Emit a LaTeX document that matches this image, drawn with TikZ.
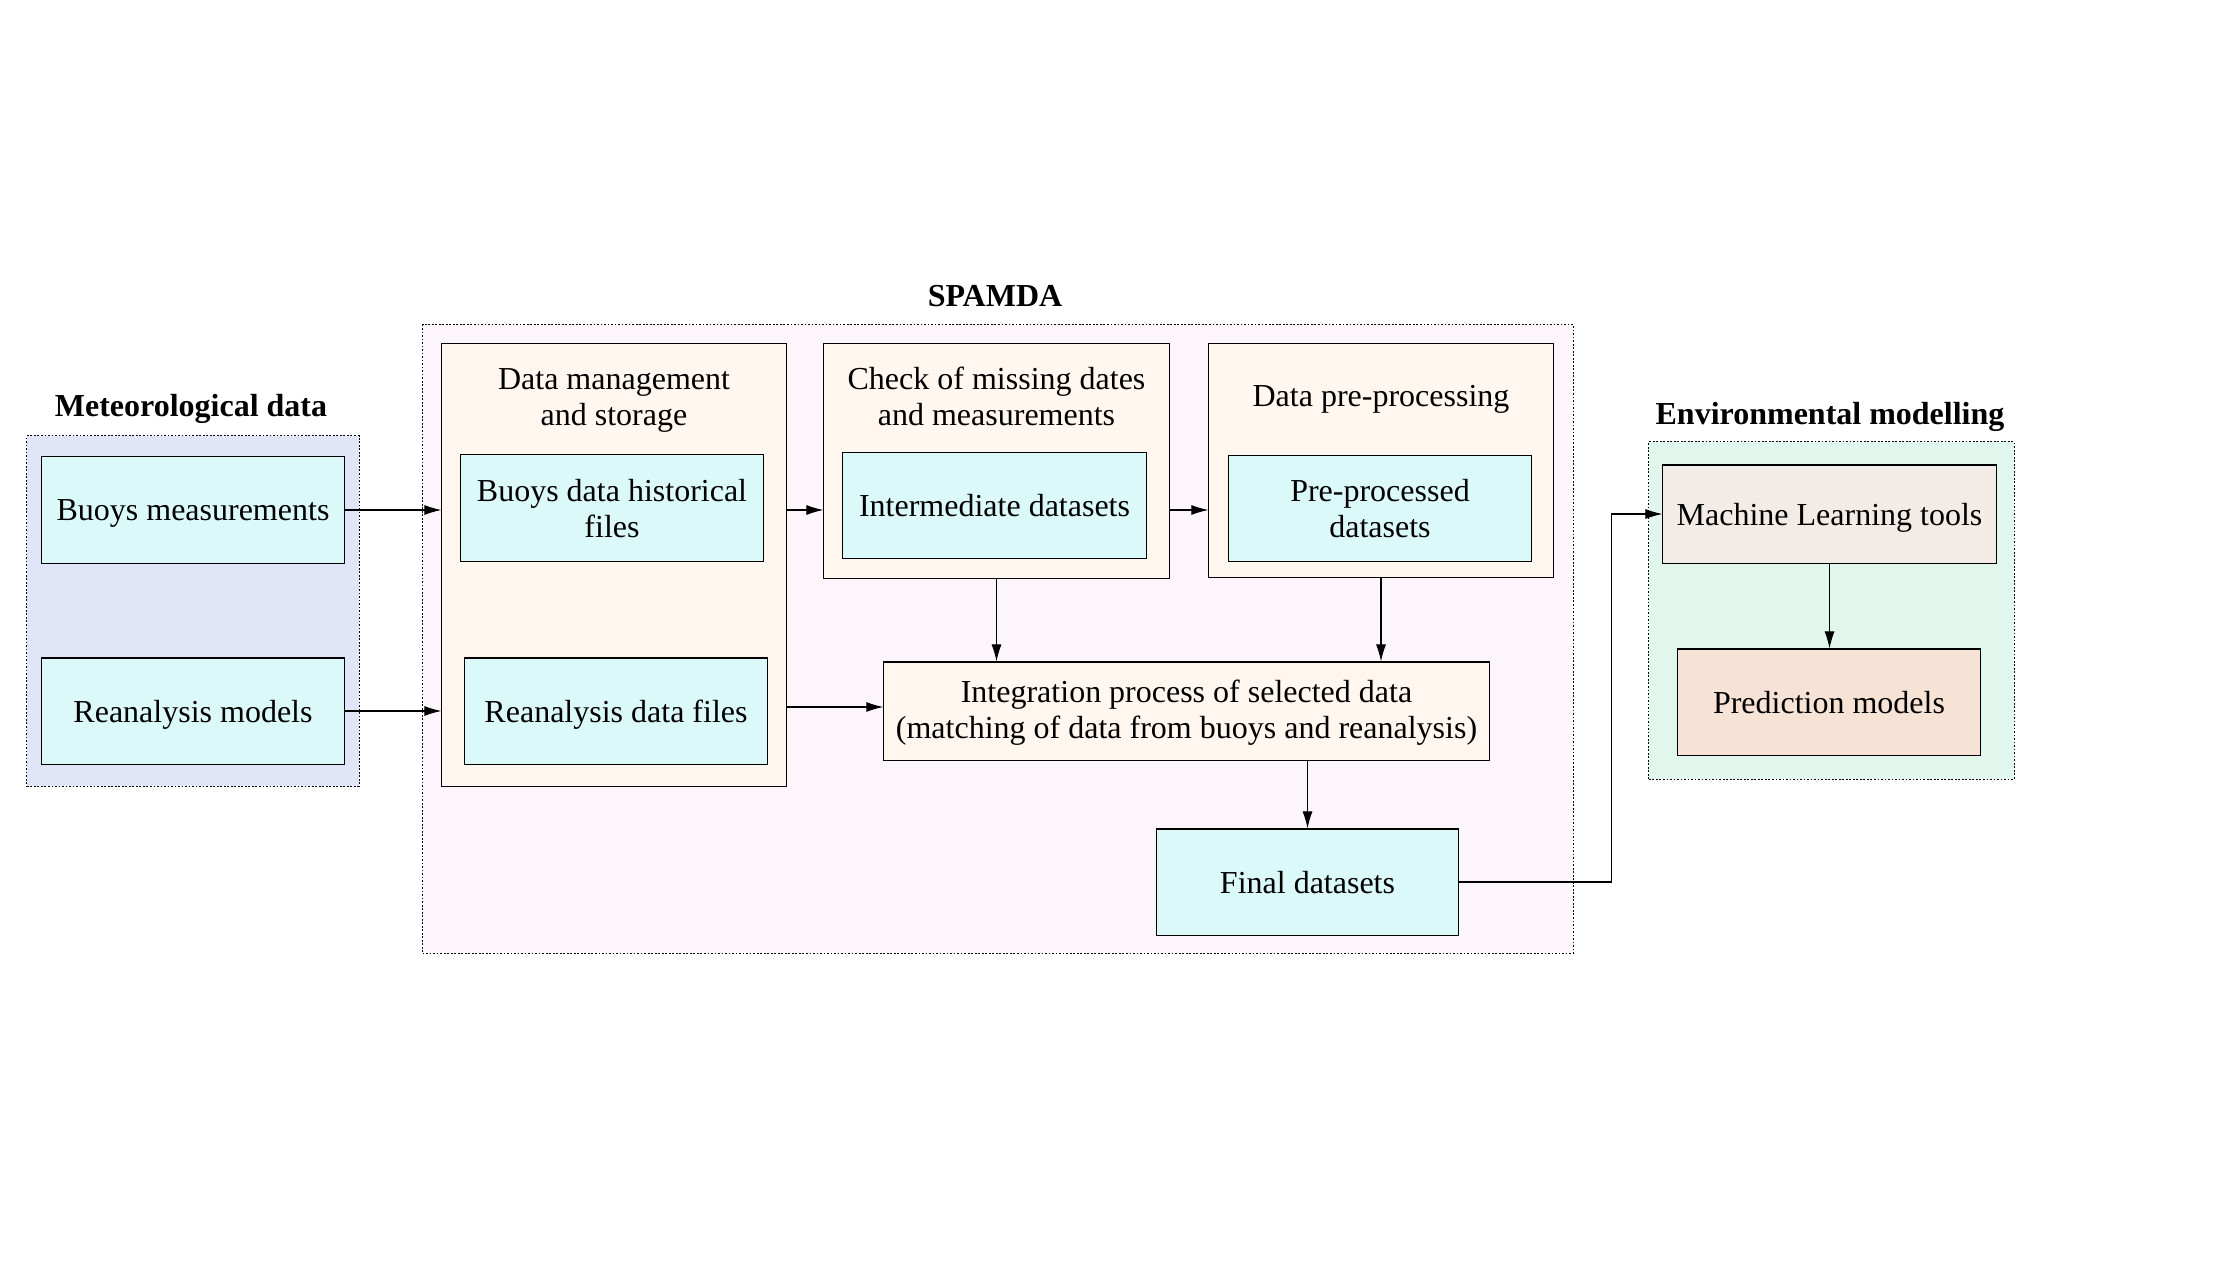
\documentclass[tikz,border=0pt]{standalone}
\usepackage{fontspec}
\setmainfont{Liberation Serif}
\usepackage{xcolor}
\usepackage{tikz}
\usetikzlibrary{arrows.meta,positioning}

\definecolor{leafcyan}{HTML}{DCF9F9}
\definecolor{metbg}{HTML}{E0E5F8}
\definecolor{spamdabg}{HTML}{FCF5FC}
\definecolor{groupbg}{HTML}{FFF6F0}
\definecolor{envbg}{HTML}{E1F7EE}
\definecolor{mlbg}{HTML}{F3ECE6}
\definecolor{predbg}{HTML}{F7E2D6}

\begin{document}
\begin{tikzpicture}[x=0.01cm,y=-0.01cm,
  font=\fontsize{9.1}{10.2}\selectfont, text depth=0pt,
  cluster/.style={draw,line width=0.3pt,dash pattern=on 0.5pt off 0.5pt,inner sep=0pt},
  group/.style={draw,fill=groupbg,line width=0.3pt,inner sep=0pt},
  leaf/.style={draw,fill=leafcyan,line width=0.3pt,inner sep=0pt,align=center,
    minimum width=3.02cm,minimum height=1.06cm},
  heading/.style={font=\fontsize{9.1}{10.2}\selectfont\bfseries},
  link/.style={-{Latex[length=1.7mm,width=1mm]},line width=0.3pt}]
\useasboundingbox (0,0) rectangle (2240,1267);

% clusters
\node[cluster,fill=metbg,minimum width=3.32cm,minimum height=3.50cm] (met) at (193,611) {};
\node[cluster,fill=spamdabg,minimum width=11.50cm,minimum height=6.28cm] (spamda) at (998,639) {};
\node[cluster,fill=envbg,minimum width=3.65cm,minimum height=3.37cm] (env) at (1831.5,610.5) {};
\node[heading] (methead) at (191,405) {Meteorological data};
\node[heading] (spamdahead) at (995,296) {SPAMDA};
\node[heading] (envhead) at (1830,413) {Environmental modelling};

% SPAMDA stages
\node[group,minimum width=3.44cm,minimum height=4.42cm] (mgmt) at (614,565) {};
\node[group,minimum width=3.45cm,minimum height=2.34cm] (check) at (996.5,461) {};
\node[group,minimum width=3.44cm,minimum height=2.33cm] (prep) at (1381,460.5) {};
\node[align=center] (mgmthead) at (614,397) {Data management\\and storage};
\node[align=center] (checkhead) at (996.5,396) {Check of missing dates\\and measurements};
\node (prephead) at (1381,396) {Data pre-processing};

% data nodes
\node[leaf] (buoys) at (193,510) {Buoys measurements};
\node[leaf] (rean) at (193,711) {Reanalysis models};
\node[leaf] (hist) at (612,508) {Buoys data historical\\files};
\node[leaf] (reanfiles) at (616,711) {Reanalysis data files};
\node[leaf,minimum width=3.03cm,minimum height=1.05cm] (inter) at (994.5,505.5) {Intermediate datasets};
\node[leaf,minimum height=1.05cm] (preproc) at (1380,508.5) {Pre-processed\\datasets};
\node[group,align=center,text depth=1.2pt,minimum width=6.05cm,minimum height=0.98cm] (integ) at (1186.5,711)
  {Integration process of selected data\\(matching of data from buoys and reanalysis)};
\node[leaf,minimum width=3.01cm] (final) at (1307.5,882) {Final datasets};
\node[leaf,fill=mlbg,minimum width=3.33cm,minimum height=0.98cm] (ml) at (1829.5,514) {Machine Learning tools};
\node[leaf,fill=predbg] (pred) at (1829,702) {Prediction models};

% connectors
\draw[link] (buoys.east) -- (buoys.east -| mgmt.west);
\draw[link] (rean.east) -- (rean.east -| mgmt.west);
\draw[link] (buoys.east -| mgmt.east) -- (buoys.east -| check.west);
\draw[link] (buoys.east -| check.east) -- (buoys.east -| prep.west);
\draw[link] ([yshift=0.04cm]reanfiles.center -| mgmt.east) -- ([yshift=0.04cm]reanfiles.center -| integ.west);
\draw[link] (check.south) -- (check.south |- integ.north);
\draw[link] (prep.south) -- (prep.south |- integ.north);
\draw[link] (final.north |- integ.south) -- (final.north);
\coordinate (turn) at (1611,882);
\draw[link] (final.east) -- (turn) |- (ml.west);
\draw[link] (ml.south) -- (ml.south |- pred.north);
\end{tikzpicture}
\end{document}
